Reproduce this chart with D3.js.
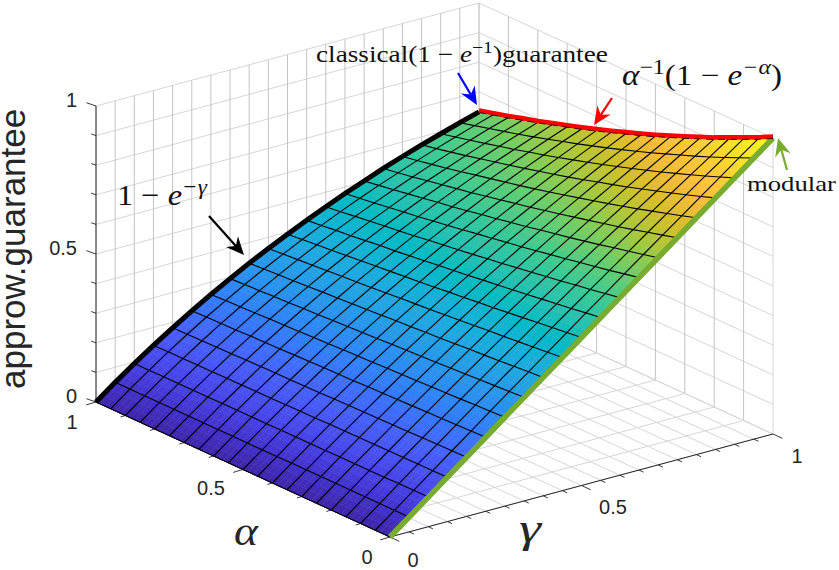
<!DOCTYPE html><html><head><meta charset="utf-8"><style>html,body{margin:0;background:#fff}svg{display:block}</style></head><body><script src="https://cdn.jsdelivr.net/npm/d3@7"></script><svg id="c" width="839" height="570"></svg><script>
// Surface heights in thousandths. Rows: alpha 0..1, columns: gamma 0..1, both in 0.05 steps.
// Not read node by node from pixels: tabulated from the curves printed on the chart
// (1-e^-gamma, alpha^-1(1-e^-alpha), modular edge), which agree with its corners and edges.
const alphaValues=d3.range(21).map(i=>i/20);
const gammaValues=d3.range(21).map(i=>i/20);
const surfaceZ=[
[0,50,100,150,200,250,300,350,400,450,500,550,600,650,700,750,800,850,900,950,1000],
[0,50,100,149,199,248,298,347,396,445,494,543,591,640,688,736,784,832,880,928,975],
[0,50,100,149,198,247,296,344,392,440,488,535,582,629,676,723,769,815,861,906,952],
[0,50,99,148,197,245,293,341,388,435,482,528,574,619,665,709,754,798,842,885,929],
[0,50,99,148,196,244,291,338,384,430,476,521,565,610,653,696,739,782,824,865,906],
[0,50,99,147,195,242,289,335,381,426,470,514,557,600,642,684,725,766,806,846,885],
[0,50,99,147,194,241,287,332,377,421,464,507,549,591,631,672,711,750,789,827,864],
[0,50,98,146,193,239,285,329,373,416,459,500,541,581,621,660,698,735,772,808,844],
[0,50,98,146,192,238,283,327,370,412,453,494,533,572,611,648,685,721,756,790,824],
[0,49,98,145,191,236,281,324,366,407,448,487,526,564,600,637,672,706,740,773,805],
[0,49,98,145,190,235,279,321,363,403,442,481,518,555,591,625,659,692,725,756,787],
[0,49,97,144,189,234,277,318,359,399,437,475,511,547,581,615,647,679,710,740,769],
[0,49,97,143,188,232,275,316,356,394,432,468,504,538,572,604,635,666,695,724,752],
[0,49,97,143,188,231,273,313,352,390,427,462,497,530,562,594,624,653,681,709,735],
[0,49,97,142,187,229,271,310,349,386,422,456,490,522,553,583,613,641,668,694,719],
[0,49,96,142,186,228,269,308,346,382,417,451,483,514,545,574,602,629,654,679,704],
[0,49,96,141,185,227,267,305,342,378,412,445,477,507,536,564,591,617,642,665,688],
[0,49,96,141,184,225,265,303,339,374,407,439,470,499,528,555,580,605,629,652,674],
[0,49,96,140,183,224,263,300,336,370,403,434,464,492,519,545,570,594,617,639,659],
[0,49,95,140,182,223,261,298,333,366,398,428,457,485,511,536,560,583,605,626,646],
[0,49,95,139,181,221,259,295,330,362,393,423,451,478,503,528,551,573,593,613,632]];
const parulaStops=["#3e26a8","#4332cb","#4741e5","#4852f4","#4563fd","#3875fe","#2d87f7","#2796eb","#20a5e2","#12b1d6","#02bac3","#24c1ae","#37c897","#57cc7a","#80cc59","#abc739","#d1bf27","#f0ba36","#fec338","#f9d62d","#f5e924","#f9fb15"];

const svg=d3.select("#c");
const X0=390,Y0=537;
const aX=d3.scaleLinear([0,1],[0,-294]),aY=d3.scaleLinear([0,1],[0,-135]);
const gX=d3.scaleLinear([0,1],[0,383]),gY=d3.scaleLinear([0,1],[0,-103]);
const zY=d3.scaleLinear([0,1],[0,-296]);
const P=(a,g,z)=>[X0+aX(a)+gX(g),Y0+aY(a)+gY(g)+zY(z)];
const color=d3.scaleLinear().domain(parulaStops.map((_,i)=>i/(parulaStops.length-1))).range(parulaStops).interpolate(d3.interpolateRgb);
const line=d3.line();
const seg=(g,p,q,col,w)=>g.append("line").attr("x1",p[0]).attr("y1",p[1]).attr("x2",q[0]).attr("y2",q[1]).attr("stroke",col).attr("stroke-width",w);

// walls and floor
const grid=svg.append("g").attr("fill","none");
const vCol="#c4c4c4",hCol="#d6d6d6";
d3.range(0,1.0001,.1).forEach(z=>{seg(grid,P(1,0,z),P(1,1,z),hCol,1);seg(grid,P(1,1,z),P(0,1,z),hCol,1);});
d3.range(0,1.0001,.05).forEach(g=>{seg(grid,P(1,g,0),P(1,g,1),g>.99||g<.01?hCol:vCol,1);seg(grid,P(0,g,0),P(1,g,0),hCol,1);});
d3.range(0,1.0001,.1).forEach(a=>{seg(grid,P(a,1,0),P(a,1,1),a<.01?hCol:vCol,1);seg(grid,P(a,0,0),P(a,1,0),hCol,1);});

// axes and ticks
const ax=svg.append("g"),axC="#262626";
seg(ax,P(1,0,0),P(1,0,1),axC,1);seg(ax,P(1,0,0),P(0,0,0),axC,1);seg(ax,P(0,0,0),P(0,1,0),axC,1);
const tick=(p,dx,dy,major)=>{const k=major?1:.5;seg(ax,p,[p[0]+dx*k,p[1]+dy*k],axC,.9);};
d3.range(0,11).forEach(i=>{tick(P(1,0,i/10),-9.6,-3.3,i%5==0);tick(P(i/10,0,0),-9.8,2.9,i%5==0);});
d3.range(0,21).forEach(i=>tick(P(0,i/20,0),9.3,4.3,i%10==0));

// surface
const surf=svg.append("g");
const sub=3;
const Z=(i,j,u,v)=>{const r0=surfaceZ[i],r1=surfaceZ[i+1];return ((1-u)*(1-v)*r0[j]+(1-u)*v*r0[j+1]+u*(1-v)*r1[j]+u*v*r1[j+1])/1000;};
for(let i=0;i<20;i++)for(let j=0;j<20;j++){
  const da=alphaValues[i+1]-alphaValues[i],dg=gammaValues[j+1]-gammaValues[j];
  for(let m=0;m<sub;m++)for(let n=0;n<sub;n++){
    const u0=m/sub,u1=(m+1)/sub,v0=n/sub,v1=(n+1)/sub;
    const pt=(u,v)=>P(alphaValues[i]+u*da,gammaValues[j]+v*dg,Z(i,j,u,v));
    const c=color(Z(i,j,(u0+u1)/2,(v0+v1)/2));
    surf.append("polygon").attr("points",[pt(u0,v0),pt(u0,v1),pt(u1,v1),pt(u1,v0)].join(" ")).attr("fill",c).attr("stroke",c).attr("stroke-width",.6);
  }
}
// mesh
const mesh=svg.append("g").attr("fill","none").attr("stroke","#000").attr("stroke-width",1.1);
alphaValues.forEach((a,i)=>mesh.append("path").attr("d",line(gammaValues.map((g,j)=>P(a,g,surfaceZ[i][j]/1000)))));
gammaValues.forEach((g,j)=>mesh.append("path").attr("d",line(alphaValues.map((a,i)=>P(a,g,surfaceZ[i][j]/1000)))));

// highlighted edges
const edges=svg.append("g").attr("fill","none");
edges.append("path").attr("d",line(gammaValues.map((g,j)=>P(1,g,surfaceZ[20][j]/1000)))).attr("stroke","#000").attr("stroke-width",5);
edges.append("path").attr("d",line(gammaValues.map((g,j)=>P(0,g,surfaceZ[0][j]/1000)))).attr("stroke","#77ac30").attr("stroke-width",5.6);
const redPts=alphaValues.map((a,i)=>P(a,1,surfaceZ[i][20]/1000));
edges.append("path").attr("d",line(redPts.map(p=>[p[0],p[1]-1.5]))).attr("stroke","#ff0000").attr("stroke-width",4.4);
edges.append("path").attr("d",line(redPts.map(p=>[p[0],p[1]+.6]))).attr("stroke","#300").attr("stroke-width",.9).attr("stroke-dasharray","7 5");

// tick labels
const lab=svg.append("g").attr("font-family","'Liberation Sans',Arial,sans-serif").attr("font-size",20).attr("fill","#262626").attr("dominant-baseline","central");
const zLabels=[[0,77,396],[.5,77,248],[1,77,100]];
zLabels.forEach(d=>lab.append("text").attr("x",d[1]).attr("y",d[2]).attr("text-anchor","end").text(d[0]));
const alphaLabels=[[1,72,422],[.5,211,488],[0,367,557]];
const gammaLabels=[[0,413,560],[.5,613,507],[1,797,456]];
alphaLabels.concat(gammaLabels).forEach(d=>lab.append("text").attr("x",d[1]).attr("y",d[2]).attr("text-anchor","middle").text(d[0]));

// axis titles and annotations
svg.append("text").attr("transform","translate(25,389) rotate(-90)").attr("font-family","'Liberation Sans',Arial,sans-serif").attr("font-size",35).attr("fill","#262626").text("approw.guarantee");
const serif="'Liberation Serif','DejaVu Serif',serif";
const mt=(x,y,width,size,parts,fill)=>{const t=svg.append("text").attr("font-family",serif).attr("font-size",size).attr("fill",fill||"#111");
  parts.forEach(p=>{const s=t.append("tspan").text(p.t);if(p.i)s.attr("font-style","italic");if(p.sup)s.attr("font-size",size*.72).attr("dy",-size*.38);if(p.down)s.attr("dy",size*.38);});
  t.attr("transform",`translate(${x},${y}) scale(${width/t.node().getComputedTextLength()},1)`);return t;};
mt(234,545,24,40,[{t:"α",i:1}],"#262626");
mt(519,542,22,40,[{t:"γ",i:1}],"#262626");
mt(316,62,292,23,[{t:"classical(1 − "},{t:"e",i:1},{t:"−1",sup:1},{t:")guarantee",down:1}]);
mt(622,85,160,29,[{t:"α",i:1},{t:"−1",sup:1},{t:"(1 − ",down:1},{t:"e",i:1},{t:"−α",sup:1,i:1},{t:")",down:1}]);
mt(117,205,90,30,[{t:"1 − "},{t:"e",i:1},{t:"−γ",sup:1,i:1}]);
mt(747,191,89,22,[{t:"modular"}]);

// arrows
const arrows=[[209,216,244,255,"#000"],[458,73,477,105,"#0000ff"],[612,98,594,125,"#ff0000"],[787,170,778,138,"#77ac30"]];
const ag=svg.append("g");
arrows.forEach(([x1,y1,x2,y2,c])=>{
  const L=Math.hypot(x2-x1,y2-y1),ux=(x2-x1)/L,uy=(y2-y1)/L,nx=-uy,ny=ux,h=18,w=8,b=x2-ux*h*.68,e=y2-uy*h*.68;
  seg(ag,[x1,y1],[b,e],c,2.2);
  ag.append("polygon").attr("fill",c).attr("points",[[x2,y2],[x2-ux*h+nx*w,y2-uy*h+ny*w],[b,e],[x2-ux*h-nx*w,y2-uy*h-ny*w]].join(" "));
});
</script></body></html>
